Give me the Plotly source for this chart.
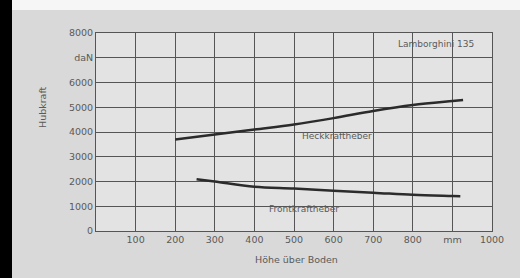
import plotly.graph_objects as go

# Data
heck_x = [200, 300, 400, 500, 600, 700, 800, 900, 927]
heck_y = [3700, 3900, 4100, 4300, 4560, 4850, 5090, 5250, 5290]
front_x = [254, 300, 400, 500, 600, 700, 800, 900, 920]
front_y = [2090, 2000, 1790, 1720, 1630, 1550, 1460, 1410, 1400]

x_tickvals = [100, 200, 300, 400, 500, 600, 700, 800, 900, 1000]
x_ticktext = ["100", "200", "300", "400", "500", "600", "700", "800", "mm", "1000"]
y_tickvals = [0, 1000, 2000, 3000, 4000, 5000, 6000, 7000, 8000]
y_ticktext = ["0", "1000", "2000", "3000", "4000", "5000", "6000", "daN", "8000"]

W, H = 520, 278
ML, MR, MT, MB = 96, 28, 33, 47
PW, PH = W - ML - MR, H - MT - MB

line_col = "#2b2b2b"
grid_col = "#555555"
text_col = "#5a5a5a"
font = "DejaVu Sans, Liberation Sans, sans-serif"
fs = 9.5

fig = go.Figure()
fig.add_trace(go.Scatter(x=heck_x, y=heck_y, mode="lines",
                         line=dict(color=line_col, width=2.5, shape="spline"),
                         showlegend=False, hoverinfo="skip"))
fig.add_trace(go.Scatter(x=front_x, y=front_y, mode="lines",
                         line=dict(color=line_col, width=2.5, shape="spline"),
                         showlegend=False, hoverinfo="skip"))

fig.update_xaxes(range=[0, 1000], tickvals=x_tickvals, ticktext=x_ticktext,
                 showgrid=True, gridcolor=grid_col, gridwidth=1,
                 showline=True, linecolor=grid_col, linewidth=1, mirror=True,
                 zeroline=False, ticks="", ticklen=0,
                 tickfont=dict(family=font, size=fs, color=text_col))
fig.update_yaxes(range=[0, 8000], tickvals=y_tickvals, ticktext=y_ticktext,
                 showgrid=True, gridcolor=grid_col, gridwidth=1,
                 showline=True, linecolor=grid_col, linewidth=1, mirror=True,
                 zeroline=False, ticks="", ticklen=0,
                 tickfont=dict(family=font, size=fs, color=text_col))

def px_x(p):
    return (p - ML) / PW

def px_y(p):
    return (H - MB - p) / PH

def label(text, x, y, size, angle=0):
    return dict(text=text, x=px_x(x), y=px_y(y), xref="paper", yref="paper",
                xanchor="center", yanchor="middle", showarrow=False,
                textangle=angle, font=dict(family=font, size=size, color=text_col))

annotations = [
    label("Heckkraftheber", 337, 136, 9),
    label("Frontkraftheber", 304, 209, 9),
    label("Lamborghini 135", 436, 44, 9),
    label("Höhe über Boden", 296, 259, 9.5),
    label("Hubkraft", 42, 107, 9.5, -90),
]

shapes = [
    # black scan edge on the left
    dict(type="rect", xref="paper", yref="paper", x0=px_x(0), x1=px_x(12),
         y0=px_y(H), y1=px_y(0), fillcolor="#000000", line=dict(width=0), layer="below"),
    # white strip on top
    dict(type="rect", xref="paper", yref="paper", x0=px_x(12), x1=px_x(W),
         y0=px_y(10), y1=px_y(0), fillcolor="#f6f6f6", line=dict(width=0), layer="below"),
]

fig.update_layout(width=W, height=H, margin=dict(l=ML, r=MR, t=MT, b=MB),
                  paper_bgcolor="#d9d9d9", plot_bgcolor="#e3e3e3",
                  annotations=annotations, shapes=shapes)

fig.write_html("out.html", config={"displayModeBar": False},
               post_script="document.body.style.margin='0';document.body.style.overflow='hidden';")
